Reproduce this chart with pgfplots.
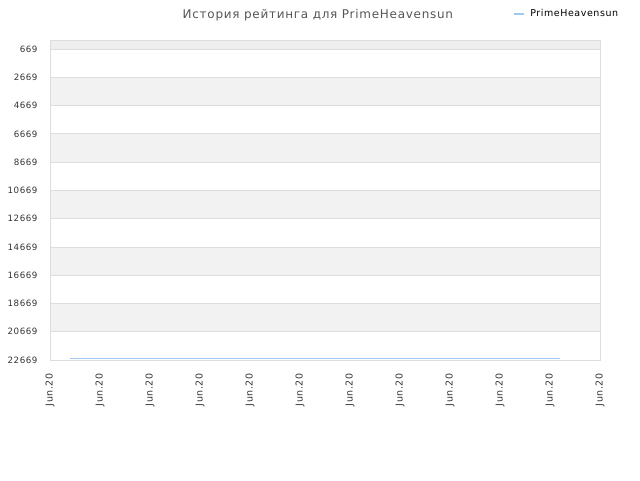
\documentclass[border=0pt]{standalone}
\usepackage{fontspec}
\setmainfont{DejaVu Sans}
\newfontfamily\spaced[LetterSpace=6]{DejaVu Sans}
\usepackage{pgfplots}
\pgfplotsset{compat=1.18}

\definecolor{bandgray}{HTML}{F2F2F2}
\definecolor{topgray}{HTML}{EEEEEE}
\definecolor{gridgray}{HTML}{DDDDDD}
\definecolor{labelgray}{HTML}{333333}
\definecolor{titlegray}{HTML}{555555}
\definecolor{ratingblue}{HTML}{9EC8F2}

\begin{document}
\begin{tikzpicture}[x=1pt,y=1pt]
\path[use as bounding box] (-50,-120) rectangle (590,360);
\begin{axis}[
    at={(0,0)}, anchor=south west,
    scale only axis,
    width=550pt, height=320pt,
    xmin=0, xmax=11,
    ymin=30, ymax=22669,
    y dir=reverse,
    scaled y ticks=false,
    axis on top,
    axis line style={draw=gridgray},
    major tick length=0pt,
    xtick={0,1,2,3,4,5,6,7,8,9,10,11},
    xticklabels={Jun.20,Jun.20,Jun.20,Jun.20,Jun.20,Jun.20,Jun.20,Jun.20,Jun.20,Jun.20,Jun.20,Jun.20},
    ytick={669,2669,4669,6669,8669,10669,12669,14669,16669,18669,20669,22669},
    yticklabels={669,2669,4669,6669,8669,10669,12669,14669,16669,18669,20669,22669},
    ymajorgrids=true,
    grid style={draw=gridgray, line width=0.8pt},
    x tick label style={rotate=90, anchor=east, font=\spaced\fontsize{9.5}{9.5}\selectfont, text=labelgray},
    xticklabel shift={10pt},
    y tick label style={anchor=east, font=\spaced\fontsize{8.7}{8.7}\selectfont, text=labelgray},
    yticklabel shift={9pt},
    title={История рейтинга для PrimeHeavensun},
    title style={at={(0.487,1)}, anchor=center, yshift=19pt, font=\spaced\fontsize{12}{12}\selectfont, text=titlegray},
    legend style={at={(0.842,1.082)}, anchor=west, draw=none, fill=none,
        font=\spaced\fontsize{9.5}{9.5}\selectfont, inner sep=0pt,
        nodes={inner xsep=5pt}},
    legend image code/.code={\draw[#1, line width=2pt] (0pt,0pt) -- (10pt,0pt);},
]
\addplot[fill=topgray, draw=none, forget plot] coordinates {(0,30)(11,30)(11,669)(0,669)} -- cycle;
\addplot[fill=bandgray, draw=none, forget plot] coordinates {(0,2669)(11,2669)(11,4669)(0,4669)} -- cycle;
\addplot[fill=bandgray, draw=none, forget plot] coordinates {(0,6669)(11,6669)(11,8669)(0,8669)} -- cycle;
\addplot[fill=bandgray, draw=none, forget plot] coordinates {(0,10669)(11,10669)(11,12669)(0,12669)} -- cycle;
\addplot[fill=bandgray, draw=none, forget plot] coordinates {(0,14669)(11,14669)(11,16669)(0,16669)} -- cycle;
\addplot[fill=bandgray, draw=none, forget plot] coordinates {(0,18669)(11,18669)(11,20669)(0,20669)} -- cycle;

\addplot[ratingblue, line width=1.2pt] coordinates {
    (0.4,22590)(2,22590)(4,22590)(6,22590)(8,22590)(10.2,22590)
};
\legend{PrimeHeavensun}
\end{axis}
\end{tikzpicture}
\end{document}
